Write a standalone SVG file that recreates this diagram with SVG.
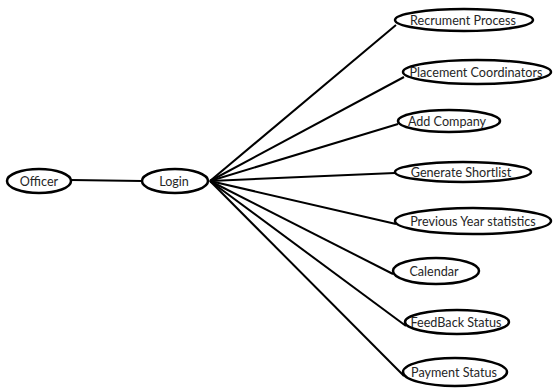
<svg xmlns="http://www.w3.org/2000/svg" width="553" height="388" viewBox="0 0 553 388">
  <style>
    .node ellipse { fill: #ffffff; stroke: #000000; stroke-width: 2.5; }
    .node text { font-family: Lato, "Open Sans", "Liberation Sans", sans-serif; font-size: 12.6px; fill: #262626; text-anchor: middle; dominant-baseline: central; }
    #connectors line { stroke: #000000; stroke-width: 2; }
  </style>
  <rect width="553" height="388" fill="#ffffff"/>

  <g id="connectors">
    <line x1="71" y1="180" x2="142" y2="181"/>
    <line x1="210" y1="181" x2="396" y2="25"/>
    <line x1="210" y1="181" x2="404" y2="77"/>
    <line x1="210" y1="181" x2="398" y2="124"/>
    <line x1="210" y1="181" x2="395" y2="173"/>
    <line x1="210" y1="181" x2="396" y2="224"/>
    <line x1="210" y1="181" x2="393" y2="274"/>
    <line x1="210" y1="181" x2="406" y2="326"/>
    <line x1="210" y1="181" x2="404" y2="376"/>
  </g>

  <g id="officer" class="node">
    <ellipse cx="39" cy="181" rx="32" ry="12"/>
    <text x="39" y="181">Officer</text>
  </g>
  <g id="login" class="node">
    <ellipse cx="175" cy="181" rx="33" ry="12"/>
    <text x="174" y="181">Login</text>
  </g>
  <g id="recrument-process" class="node">
    <ellipse cx="464" cy="20" rx="69" ry="11"/>
    <text x="463" y="20">Recrument Process</text>
  </g>
  <g id="placement-coordinators" class="node">
    <ellipse cx="477" cy="72" rx="74" ry="12"/>
    <text x="476" y="72">Placement Coordinators</text>
  </g>
  <g id="add-company" class="node">
    <ellipse cx="449" cy="121" rx="51" ry="11"/>
    <text x="447" y="121">Add Company</text>
  </g>
  <g id="generate-shortlist" class="node">
    <ellipse cx="463" cy="172" rx="68" ry="10"/>
    <text x="461" y="172">Generate Shortlist</text>
  </g>
  <g id="previous-year-statistics" class="node">
    <ellipse cx="473" cy="221" rx="78" ry="13"/>
    <text x="473" y="221">Previous Year statistics</text>
  </g>
  <g id="calendar" class="node">
    <ellipse cx="436" cy="271" rx="43" ry="13"/>
    <text x="434" y="271">Calendar</text>
  </g>
  <g id="feedback-status" class="node">
    <ellipse cx="457" cy="322" rx="52" ry="12"/>
    <text x="456" y="322">FeedBack Status</text>
  </g>
  <g id="payment-status" class="node">
    <ellipse cx="455" cy="372" rx="52" ry="14"/>
    <text x="454" y="372">Payment Status</text>
  </g>
</svg>
